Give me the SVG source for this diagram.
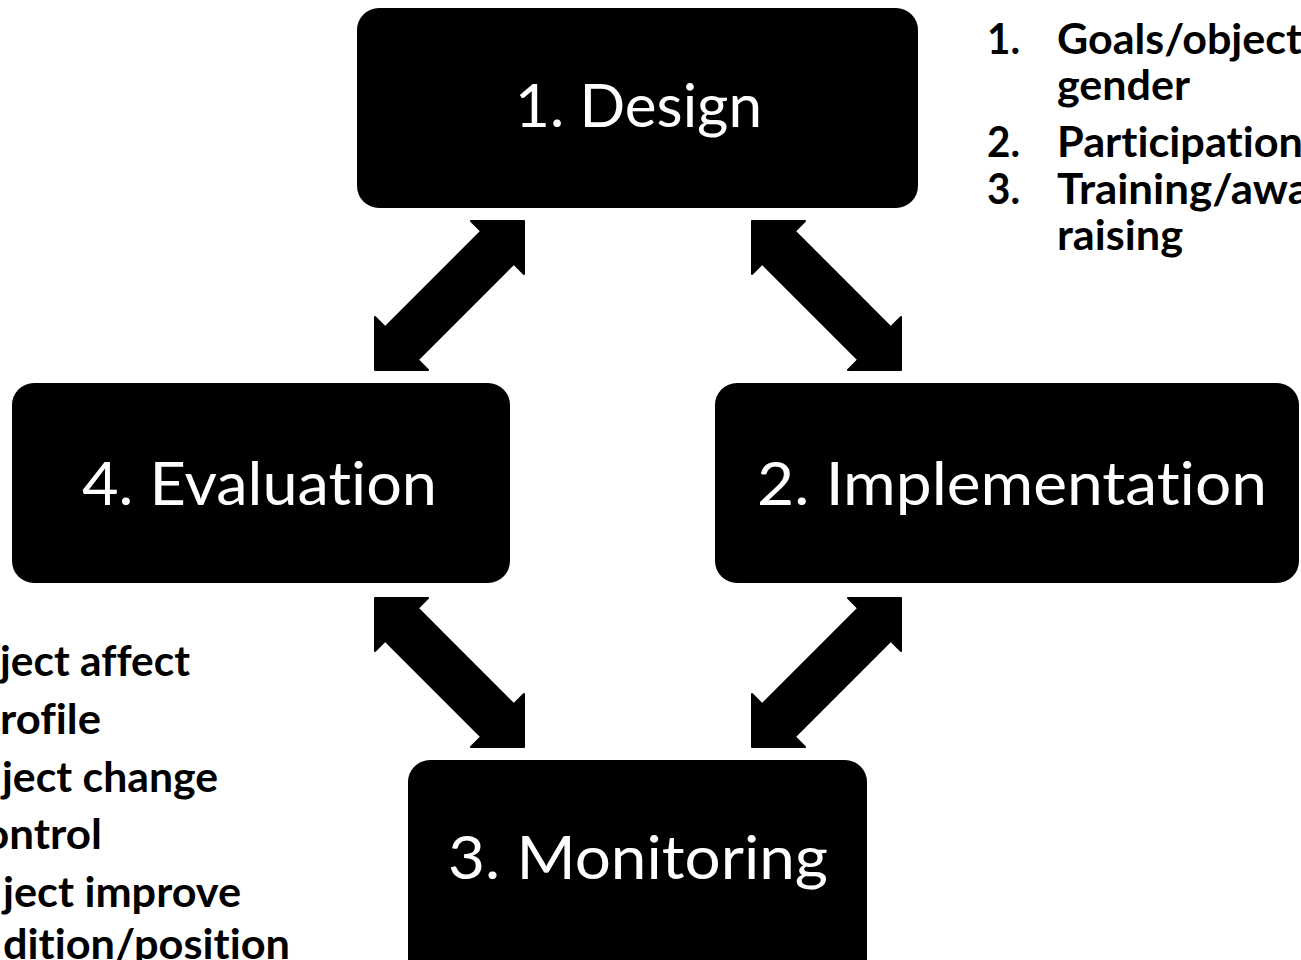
<svg xmlns="http://www.w3.org/2000/svg" width="1301" height="960" viewBox="0 0 1301 960">
  <style>
    .box { fill: #000000; }
    .label { fill: #ffffff; font-family: Lato, "Open Sans", "Liberation Sans", sans-serif; font-size: 60px; font-weight: 400; font-variant-ligatures: none; font-feature-settings: "liga" 0, "clig" 0; }
    .note { fill: #000000; font-family: Lato, "Open Sans", "Liberation Sans", sans-serif; font-size: 42px; font-weight: 700; font-variant-ligatures: none; font-feature-settings: "liga" 0, "clig" 0; }
    .arrow { fill: #000000; stroke: #000000; stroke-width: 2; stroke-linejoin: round; }
  </style>
  <rect width="1301" height="960" fill="#ffffff"/>

  <g id="connectors">
    <polygon class="arrow" points="524,221 524,274 513.8,263.8 417.8,359.8 428,370 375,370 375,317 385.2,327.2 481.2,231.2 471,221"/>
    <polygon class="arrow" points="752,221 752,274 762.2,263.8 858.2,359.8 848,370 901,370 901,317 890.8,327.2 794.8,231.2 805,221"/>
    <polygon class="arrow" points="524,747 524,694 513.8,704.2 417.8,608.2 428,598 375,598 375,651 385.2,640.8 481.2,736.8 471,747"/>
    <polygon class="arrow" points="752,747 752,694 762.2,704.2 858.2,608.2 848,598 901,598 901,651 890.8,640.8 794.8,736.8 805,747"/>
  </g>

  <g id="node-design">
    <rect class="box" x="357" y="8" width="561" height="200" rx="22" ry="22"/>
    <text class="label" x="515" y="127" textLength="247" lengthAdjust="spacingAndGlyphs">1. Design</text>
  </g>

  <g id="node-implementation">
    <rect class="box" x="715" y="383" width="584" height="200" rx="22" ry="22"/>
    <text class="label" x="757" y="505" textLength="510" lengthAdjust="spacingAndGlyphs">2. Implementation</text>
  </g>

  <g id="node-monitoring">
    <rect class="box" x="408" y="760" width="459" height="230" rx="22" ry="22"/>
    <text class="label" x="448" y="879" textLength="380" lengthAdjust="spacingAndGlyphs">3. Monitoring</text>
  </g>

  <g id="node-evaluation">
    <rect class="box" x="12" y="383" width="498" height="200" rx="22" ry="22"/>
    <text class="label" x="82" y="505" textLength="355" lengthAdjust="spacingAndGlyphs">4. Evaluation</text>
  </g>

  <g id="design-notes">
    <text class="note" x="987" y="54" textLength="33" lengthAdjust="spacingAndGlyphs">1.</text>
    <text class="note" x="1057" y="54" textLength="245" lengthAdjust="spacingAndGlyphs">Goals/object</text>
    <text class="note" x="1057" y="100" textLength="133" lengthAdjust="spacingAndGlyphs">gender</text>
    <text class="note" x="987" y="157" textLength="33" lengthAdjust="spacingAndGlyphs">2.</text>
    <text class="note" x="1057" y="157" textLength="246" lengthAdjust="spacingAndGlyphs">Participation</text>
    <text class="note" x="987" y="204" textLength="33" lengthAdjust="spacingAndGlyphs">3.</text>
    <text class="note" x="1057" y="204" textLength="253" lengthAdjust="spacingAndGlyphs">Training/awa</text>
    <text class="note" x="1057" y="250" textLength="126" lengthAdjust="spacingAndGlyphs">raising</text>
  </g>

  <g id="evaluation-notes">
    <text class="note" x="0" y="676" textLength="190" lengthAdjust="spacingAndGlyphs">ject affect</text>
    <text class="note" x="0" y="734" textLength="101" lengthAdjust="spacingAndGlyphs">rofile</text>
    <text class="note" x="2" y="792" textLength="216" lengthAdjust="spacingAndGlyphs">ject change</text>
    <text class="note" x="-16" y="849" textLength="118" lengthAdjust="spacingAndGlyphs">ontrol</text>
    <text class="note" x="3" y="907" textLength="238" lengthAdjust="spacingAndGlyphs">ject improve</text>
    <text class="note" x="3" y="959" textLength="287" lengthAdjust="spacingAndGlyphs">dition/position</text>
  </g>
</svg>
